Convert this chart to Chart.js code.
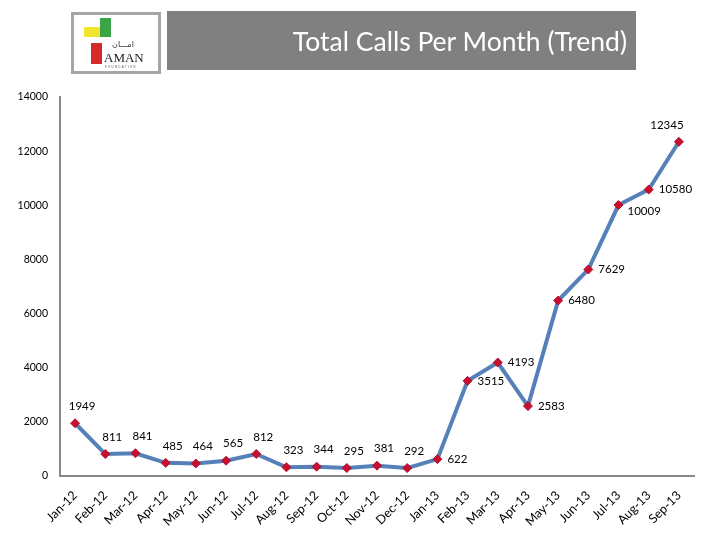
<!DOCTYPE html>
<html>
<head>
<meta charset="utf-8">
<script src="https://cdn.jsdelivr.net/npm/chart.js@4/dist/chart.umd.min.js"></script>
<style>
  html, body { margin:0; padding:0; background:#fff; }
  #wrap { position:relative; width:720px; height:540px; overflow:hidden; }
  #c { position:absolute; left:0; top:0; }
  #titleBox { position:absolute; left:167px; top:11px; width:469px; height:59px; background:#808080; }
  #titleText { position:absolute; right:9px; top:14px; color:#fff; font-family:Lato, "Open Sans", sans-serif; font-size:26.5px; white-space:nowrap; }
  #logo { position:absolute; left:71px; top:12px; width:84px; height:56px; border:3px solid #a6a6a6; background:#fff; }
  .blk { position:absolute; }
  #aman { position:absolute; left:30px; top:35px; font-family:"Liberation Serif", serif; font-size:13px; color:#222; }
  #found { position:absolute; left:31px; top:50px; font-family:"Liberation Sans", sans-serif; font-size:3px; color:#555; letter-spacing:1.2px; }
  #arab { position:absolute; left:38px; top:25px; font-family:"DejaVu Sans", sans-serif; font-size:8px; color:#333; }
</style>
</head>
<body>
<div id="wrap">
  <canvas id="c" width="720" height="540"></canvas>
  <div id="logo">
    <div class="blk" style="left:10px;top:12px;width:17px;height:10px;background:#f2e531;"></div>
    <div class="blk" style="left:26px;top:3px;width:11px;height:19px;background:#3aa447;"></div>
    <div class="blk" style="left:17px;top:28px;width:11px;height:21px;background:#d42a2a;"></div>
    <div id="arab">امـــان</div>
    <div id="aman">AMAN</div>
    <div id="found">FOUNDATION</div>
  </div>
  <div id="titleBox"><div id="titleText">Total Calls Per Month (Trend)</div></div>
</div>
<script>
const months = ["Jan-12","Feb-12","Mar-12","Apr-12","May-12","Jun-12","Jul-12","Aug-12","Sep-12","Oct-12","Nov-12","Dec-12",
                "Jan-13","Feb-13","Mar-13","Apr-13","May-13","Jun-13","Jul-13","Aug-13","Sep-13"];
const totalCalls = [1949, 811, 841, 485, 464, 565, 812, 323, 344, 295, 381, 292,
                    622, 3515, 4193, 2583, 6480, 7629, 10009, 10580, 12345];
const yTicks = [0, 2000, 4000, 6000, 8000, 10000, 12000, 14000];
// label placement style per point
const labelSide = ["top","top","top","top","top","top","top","top","top","top","top","top",
                   "right","right","right","right","right","right","rightLow","right","topLeft"];

const FONT = 'Lato, "Open Sans", sans-serif';

const labelPlugin = {
  id: 'valueLabels',
  afterDatasetsDraw(chart) {
    const ctx = chart.ctx;
    const meta = chart.getDatasetMeta(0);
    ctx.save();
    ctx.font = '11.5px ' + FONT;
    ctx.fillStyle = '#000';
    ctx.textBaseline = 'middle';
    meta.data.forEach((pt, i) => {
      const v = String(chart.data.datasets[0].data[i]);
      const side = labelSide[i];
      let x = pt.x, y = pt.y;
      if (side === 'top') { ctx.textAlign = 'center'; x += 7; y -= 17; }
      else if (side === 'right') { ctx.textAlign = 'left'; x += 10; }
      else if (side === 'rightLow') { ctx.textAlign = 'left'; x += 9; y += 6; }
      else if (side === 'topLeft') { ctx.textAlign = 'center'; x -= 12; y -= 17; }
      ctx.fillText(v, x, y);
    });
    ctx.restore();
  }
};

new Chart(document.getElementById('c'), {
  type: 'line',
  data: {
    labels: months,
    datasets: [{
      data: totalCalls,
      borderColor: '#5681b8',
      borderWidth: 4,
      pointStyle: 'rectRot',
      pointRadius: 4.5,
      pointHoverRadius: 4.5,
      pointBackgroundColor: '#c8102e',
      pointBorderColor: '#b01030',
      pointBorderWidth: 1,
      tension: 0,
      fill: false
    }]
  },
  options: {
    responsive: false,
    animation: false,
    devicePixelRatio: 1,
    layout: { padding: { top: 97, right: 26, left: 0, bottom: 0 } },
    plugins: { legend: { display: false }, tooltip: { enabled: false }, title: { display: false } },
    scales: {
      x: {
        offset: true,
        grid: { display: false, drawTicks: false },
        border: { display: true, color: '#878787', width: 2 },
        ticks: { color: '#000', font: { family: FONT, size: 12.5 }, minRotation: 45, maxRotation: 45, padding: 12, autoSkip: false },
        afterFit(s) { s.height = 64; }
      },
      y: {
        min: 0, max: 14000,
        afterBuildTicks(s) { s.ticks = yTicks.map(v => ({ value: v })); },
        grid: { display: false, drawTicks: false },
        border: { display: true, color: '#878787', width: 2 },
        ticks: { color: '#000', font: { family: FONT, size: 10.5 }, padding: 12, callback: v => String(v) },
        afterFit(s) { s.width = 60; }
      }
    }
  },
  plugins: [labelPlugin]
});
</script>
</body>
</html>
